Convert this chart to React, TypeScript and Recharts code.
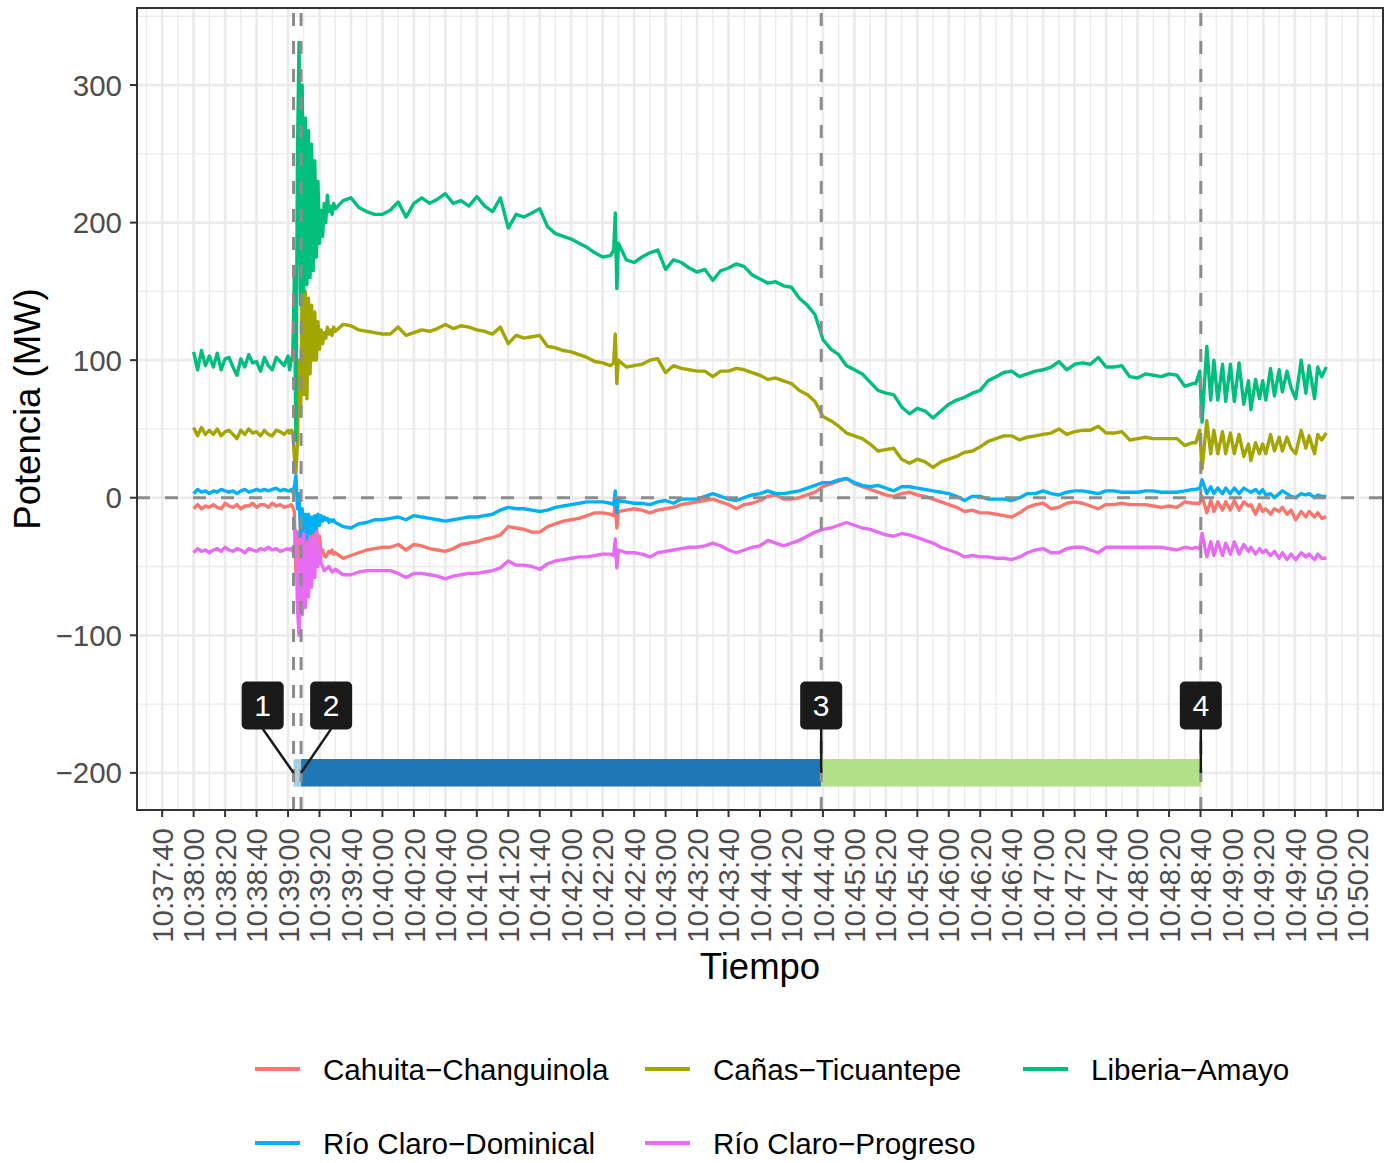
import React from 'react';
import {
  ComposedChart,
  Line,
  XAxis,
  YAxis,
  CartesianGrid,
  ReferenceLine,
  ReferenceArea,
  ReferenceDot,
} from 'recharts';

// seconds after 10:38:00
const tPre = [0, 2.5, 5, 7.5, 10, 12.5, 15, 17.5, 20, 22.5, 25, 27.5, 30, 32.5, 35, 37.5, 40, 42.5, 45, 47.5, 50, 52.5, 55, 57.5, 60];
const tEvent = [61, 62, 63, 64, 65, 66, 67, 68, 69, 70, 71, 72, 73, 74, 75, 76, 77, 78, 79, 80, 81, 82, 83, 84, 85, 86, 87, 88, 89, 90];
const tMid = [
  95, 100, 105, 110, 115, 120, 125, 130, 135, 140,
  145, 150, 155, 160, 165, 170, 175, 180, 185, 190,
  195, 200, 205, 210, 215, 220, 225, 230, 235, 240,
  245, 250, 255, 260, 265,
  267, 268, 269,
  270, 275, 280, 285, 290, 295, 300, 305, 310, 315,
  320, 325, 330, 335, 340, 345, 350, 355, 360, 365,
  370, 375, 380, 385, 390, 395, 400, 405, 410, 415,
  420, 425, 430, 435, 440, 445, 450, 455, 460, 465,
  470, 475, 480, 485, 490, 495, 500, 505, 510, 515,
  520, 525, 530, 535, 540, 545, 550, 555, 560, 565,
  570, 575, 580, 585, 590, 595, 600, 605, 610, 615,
  620, 625, 630, 635,
];
const tTail = [637, 639.5, 641, 644, 646.5, 648.5, 651, 654, 656, 659, 661.5, 664.5, 667.5, 670.5, 672, 675, 677.5, 679.5, 681.5, 684.5, 687, 690, 692, 695, 697.5, 700.5, 704, 707, 709, 712.5, 714.5, 717, 720];
const seconds = [...tPre, ...tEvent, ...tMid, ...tTail];

const cahuita = [
  -8, -5, -8, -6, -7, -5, -7, -8, -4, -6, -7, -5, -8, -6, -6, -4, -7, -5, -5, -7, -4, -6, -5, -7, -6,
  -6, -5, -7, -10, -55, -25, -60, -30, -52, -30, -48, -28, -45, -25, -40, -22, -38, -21, -35, -28, -40, -38, -42, -43, -41, -39, -40, -38, -41, -40,
  -44, -42, -40, -38, -37, -36, -36, -34, -38, -34,
  -35, -37, -38, -39, -37, -34, -33, -32, -30, -29,
  -27, -21, -22, -23, -25, -25, -21, -19, -17, -16,
  -15, -13, -11, -11, -12,
  -13, -4, -22,
  -10, -9, -8, -9, -11, -9, -8, -7, -5, -4,
  -3, -2, -1, -3, -5, -8, -5, -4, -2, 1,
  2, -1, -1, 0, 2, 4, 8, 10, 12, 14,
  10, 8, 6, 4, 2, 1, 3, 4, 2, 1,
  -1, -3, -5, -7, -10, -9, -11, -11, -12, -13,
  -14, -11, -7, -5, -4, -8, -7, -4, -3, -4,
  -6, -8, -5, -5, -4, -5, -5, -5, -6, -7,
  -6, -7, -3, -4,
  -4, -4, 1, -11, -2, -10, -3, -9, -3, -9, -2, -9, -3, -6, -5, -12, -5, -10, -8, -12, -8, -10, -7, -12, -9, -16, -10, -14, -10, -14, -11, -15, -14,
];

const canas = [
  51, 45, 51, 46, 49, 46, 50, 45, 48, 49, 46, 43, 49, 46, 50, 47, 48, 45, 49, 46, 45, 49, 48, 46, 49,
  47, 49, 48, 30, 18, 40, 100, 60, 155, 75, 150, 72, 145, 90, 140, 100, 135, 100, 128, 108, 122, 112, 120, 116, 124, 119, 122, 118, 124, 121,
  126, 125, 122, 121, 120, 119, 119, 124, 118, 120,
  122, 121, 123, 126, 123, 125, 124, 122, 121, 119,
  124, 112, 118, 116, 117, 118, 110, 109, 107, 106,
  104, 102, 99, 98, 96,
  98, 119, 83,
  100, 95, 96, 97, 100, 101, 91, 96, 94, 93,
  92, 92, 88, 92, 92, 94, 93, 91, 89, 86,
  87, 85, 83, 78, 75, 70, 59, 56, 52, 47,
  45, 43, 39, 34, 35, 36, 28, 25, 28, 26,
  22, 26, 28, 30, 33, 34, 37, 41, 43, 45,
  45, 42, 44, 45, 46, 47, 50, 46, 48, 49,
  49, 52, 47, 47, 48, 42, 43, 44, 43, 43,
  43, 43, 38, 40,
  40, 49, 21, 56, 32, 49, 32, 48, 32, 47, 32, 46, 30, 39, 27, 40, 32, 39, 32, 46, 34, 44, 34, 44, 36, 32, 49, 36, 45, 32, 46, 42, 47,
];

const liberia = [
  106, 93, 107, 96, 103, 95, 105, 93, 101, 102, 95, 89, 101, 95, 104, 98, 99, 92, 102, 96, 93, 102, 99, 96, 103,
  93, 100, 104, 160, 42, 250, 331, 140, 300, 150, 276, 155, 267, 160, 257, 165, 245, 175, 230, 185, 209, 190, 214, 200, 220, 208, 212, 206, 214, 210,
  216, 218, 211, 208, 206, 206, 209, 215, 204, 214,
  218, 214, 217, 221, 214, 216, 212, 219, 212, 208,
  218, 196, 206, 204, 207, 210, 197, 192, 190, 188,
  185, 182, 178, 175, 176,
  180, 207, 152,
  185, 173, 171, 175, 178, 180, 166, 173, 171, 167,
  164, 166, 158, 165, 167, 170, 168, 162, 159, 156,
  157, 154, 153, 145, 140, 133, 115, 108, 104, 96,
  93, 90, 84, 78, 76, 75, 66, 61, 65, 63,
  58, 63, 68, 71, 73, 76, 78, 85, 88, 91,
  92, 88, 90, 92, 93, 95, 99, 93, 97, 98,
  97, 102, 95, 95, 96, 88, 87, 90, 89, 88,
  90, 89, 81, 83,
  83, 92, 55, 110, 71, 100, 71, 97, 70, 97, 70, 98, 68, 85, 64, 86, 72, 85, 71, 94, 74, 93, 77, 92, 80, 72, 100, 76, 96, 72, 95, 88, 95,
];

const dominical = [
  3, 6, 4, 5, 3, 5, 4, 6, 5, 4, 5, 3, 5, 6, 4, 5, 6, 5, 6, 5, 6, 7, 5, 6, 5,
  5, 6, 4, 8, 16, -8, 3, -30, -8, -34, -12, -30, -12, -28, -14, -25, -13, -22, -12, -20, -13, -17, -14, -16, -15, -18, -16, -17, -16, -18,
  -21, -22, -19, -18, -16, -16, -15, -14, -16, -13,
  -14, -15, -16, -17, -16, -15, -14, -14, -13, -12,
  -9, -7, -8, -8, -9, -10, -9, -7, -6, -5,
  -4, -3, -3, -3, -4,
  -5, 5, -11,
  -2, -3, -4, -4, -5, -3, -2, -4, -1, -1,
  -1, 1, 3, 1, -1, -2, 0, 2, 3, 5,
  3, 3, 4, 5, 7, 9, 11, 11, 13, 14,
  11, 9, 8, 9, 7, 5, 8, 8, 7, 6,
  5, 4, 3, 1, -2, 1, 1, -1, -1, -1,
  -2, 0, 3, 3, 5, 3, 2, 4, 5, 5,
  4, 3, 5, 5, 4, 4, 4, 5, 5, 4,
  4, 4, 5, 6,
  6, 7, 13, 3, 8, 3, 7, 3, 7, 3, 7, 3, 7, 5, 4, 6, 3, 6, 2, 3, 0, 3, 5, 3, 1, 0, 3, 2, 3, 0, 2, 1, 1,
];

const progreso = [
  -40, -37, -39, -38, -40, -38, -37, -39, -36, -38, -39, -37, -38, -40, -37, -38, -39, -37, -38, -36, -38, -37, -39, -38, -37,
  -38, -37, -39, -40, -24, -80, -100, -30, -85, -26, -80, -35, -72, -28, -65, -30, -58, -25, -50, -35, -48, -50, -53, -52, -51, -50, -52, -54, -53, -52,
  -56, -56, -54, -53, -53, -53, -53, -55, -58, -55,
  -55, -56, -57, -59, -57, -56, -55, -55, -54, -53,
  -51, -46, -49, -49, -50, -52, -48, -46, -45, -44,
  -43, -43, -42, -41, -41,
  -42, -30, -51,
  -38, -40, -40, -41, -43, -40, -39, -38, -37, -36,
  -36, -35, -33, -35, -38, -40, -38, -36, -35, -31,
  -33, -35, -33, -31, -28, -25, -23, -22, -20, -18,
  -20, -22, -23, -25, -27, -28, -26, -27, -29, -31,
  -33, -36, -38, -40, -43, -42, -43, -43, -44, -44,
  -45, -43, -40, -38, -37, -40, -40, -37, -36, -36,
  -38, -40, -36, -36, -36, -36, -36, -36, -36, -36,
  -37, -38, -36, -37,
  -36, -37, -26, -43, -32, -42, -32, -42, -33, -41, -32, -41, -34, -39, -36, -41, -37, -40, -38, -42, -39, -44, -40, -45, -41, -45, -40, -43, -41, -45, -41, -44, -44,
];

const seriesNames = ['Cahuita−Changuinola', 'Cañas−Ticuantepe', 'Liberia−Amayo', 'Río Claro−Dominical', 'Río Claro−Progreso'];
const seriesColors = ['#F8766D', '#A3A500', '#00BF7D', '#00B0F6', '#E76BF3'];
const seriesValues = [cahuita, canas, liberia, dominical, progreso];

const xTicks = [-20, 0, 20, 40, 60, 80, 100, 120, 140, 160, 180, 200, 220, 240, 260, 280, 300, 320, 340, 360, 380, 400, 420, 440, 460, 480, 500, 520, 540, 560, 580, 600, 620, 640, 660, 680, 700, 720, 740];
const yTicks = [-200, -100, 0, 100, 200, 300];

// event markers and stage bar
const eventTimes = [63.5, 68.3, 398.9, 640.2];
const eventLabels = ['1', '2', '3', '4'];
const labelTimes = [43.9, 87.4, 398.9, 640.2];
const labelLevel = -151;
const stageLevel = -200;
const stageColors = ['#A6CEE3', '#1F78B4', '#B2DF8A'];

const rows = seconds.map((t, i) => {
  const row: Record<string, number> = { t };
  seriesValues.forEach((vals, k) => {
    row[`s${k}`] = vals[i];
  });
  return row;
});

const xMinor = [...xTicks.map((v) => v - 10), 750];
const yMinor = [-150, -50, 50, 150, 250, 350];

const clock = (s: number) => {
  const total = 10 * 3600 + 38 * 60 + s;
  const h = Math.floor(total / 3600);
  const m = Math.floor((total % 3600) / 60);
  const sec = Math.round(total % 60);
  return `${h}:${String(m).padStart(2, '0')}:${String(sec).padStart(2, '0')}`;
};

const FONT = '"Liberation Sans", Arial, Helvetica, sans-serif';

const XTick = ({ x, y, payload }: any) => (
  <g transform={`translate(${x},${y})`}>
    <text transform="rotate(-90)" x={-9} y={0} dy="0.36em" textAnchor="end" fill="#4D4D4D" fontSize={29.5} fontFamily={FONT}>
      {clock(payload.value)}
    </text>
  </g>
);

const LabelBox = ({ cx, cy, text }: any) => (
  <g>
    <rect x={cx - 21} y={cy - 24} width={42} height={48} rx={5} ry={5} fill="#1A1A1A" />
    <text x={cx} y={cy} dy="0.36em" textAnchor="middle" fill="#FFFFFF" fontSize={30} fontFamily={FONT}>
      {text}
    </text>
  </g>
);

const legendSlots = [
  [255, 1069],
  [645, 1069],
  [1023, 1069],
  [255, 1143],
  [645, 1143],
];

export default function App() {
  return (
    <div style={{ position: 'absolute', left: 0, top: 0, width: 1393, height: 1163, background: '#fff', fontFamily: FONT }}>
      <ComposedChart width={1393} height={1163} data={rows} margin={{ top: 8, right: 10, left: 0, bottom: 0 }}>
        <CartesianGrid stroke="#EBEBEB" strokeWidth={1.3} horizontalValues={yMinor} verticalValues={xMinor} />
        <CartesianGrid stroke="#EBEBEB" strokeWidth={2.7} horizontalValues={yTicks} verticalValues={xTicks} />
        <XAxis
          dataKey="t"
          type="number"
          domain={[-36, 756]}
          ticks={xTicks}
          interval={0}
          allowDataOverflow
          height={353}
          tickSize={7}
          tickMargin={2}
          axisLine={false}
          tickLine={{ stroke: '#333333', strokeWidth: 2 }}
          tick={(p: any) => <XTick {...p} />}
        />
        <YAxis
          type="number"
          domain={[-227, 356]}
          ticks={yTicks}
          interval={0}
          allowDataOverflow
          width={137}
          tickSize={7}
          tickMargin={8}
          axisLine={false}
          tickLine={{ stroke: '#333333', strokeWidth: 2 }}
          tickFormatter={(v: number) => String(v).replace('-', '\u2212')}
          tick={{ fill: '#4D4D4D', fontSize: 29.5, fontFamily: FONT }}
        />
        {seriesNames.map((name, k) => (
          <Line
            key={name}
            name={name}
            dataKey={`s${k}`}
            type="linear"
            stroke={seriesColors[k]}
            strokeWidth={3.4}
            strokeLinejoin="round"
            dot={false}
            activeDot={false}
            isAnimationActive={false}
          />
        ))}
        {eventTimes.map((t) => (
          <ReferenceLine key={`ev-${t}`} x={t} stroke="#8C8C8C" strokeWidth={3} strokeDasharray="13 15" />
        ))}
        <ReferenceLine y={0} stroke="#8C8C8C" strokeWidth={3} strokeDasharray="13 15" />
        {eventLabels.map((lab, i) => (
          <ReferenceLine
            key={`seg-${lab}`}
            segment={[
              { x: labelTimes[i], y: labelLevel - 17 },
              { x: eventTimes[i], y: stageLevel },
            ]}
            stroke="#1A1A1A"
            strokeWidth={2.5}
          />
        ))}
        {stageColors.map((c, i) => (
          <ReferenceArea
            key={`stage-${i}`}
            x1={eventTimes[i]}
            x2={eventTimes[i + 1]}
            y1={stageLevel - 10}
            y2={stageLevel + 10}
            fill={c}
            fillOpacity={1}
            stroke="none"
          />
        ))}
        {eventLabels.map((lab, i) => (
          <ReferenceDot
            key={`lab-${lab}`}
            x={labelTimes[i]}
            y={labelLevel}
            r={0}
            shape={(p: any) => <LabelBox cx={p.cx} cy={p.cy} text={lab} />}
          />
        ))}
      </ComposedChart>
      <svg width={1393} height={1163} style={{ position: 'absolute', left: 0, top: 0, pointerEvents: 'none' }}>
        <rect x={137} y={8} width={1246} height={802} fill="none" stroke="#333333" strokeWidth={2} />
        <text x={760} y={979} textAnchor="middle" fontSize={36.5} fill="#000" fontFamily={FONT}>
          Tiempo
        </text>
        <text transform="translate(40,409) rotate(-90)" textAnchor="middle" fontSize={36.5} fill="#000" fontFamily={FONT}>
          Potencia (MW)
        </text>
        {seriesNames.map((name, k) => {
          const [lx, ly] = legendSlots[k];
          return (
            <g key={`leg-${name}`}>
              <line x1={lx} x2={lx + 45} y1={ly} y2={ly} stroke={seriesColors[k]} strokeWidth={4} />
              <text x={lx + 68} y={ly} dy="0.36em" fontSize={29.6} fill="#000" fontFamily={FONT}>
                {name}
              </text>
            </g>
          );
        })}
      </svg>
    </div>
  );
}
